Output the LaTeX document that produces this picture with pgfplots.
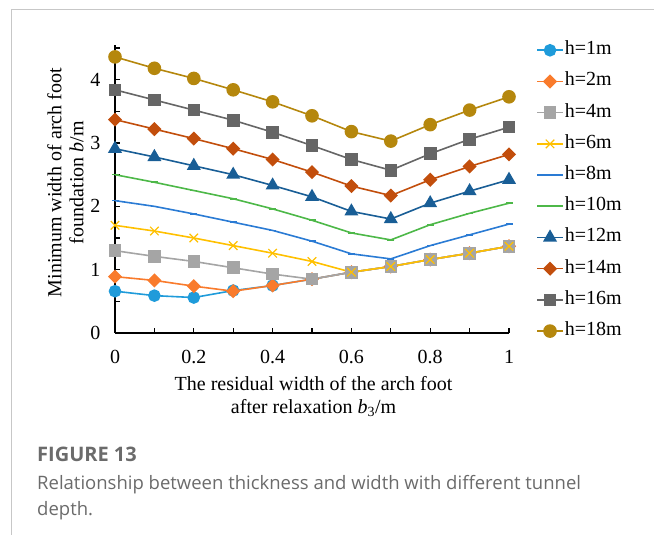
\documentclass[border=0pt]{standalone}
\usepackage{pgfplots}
\pgfplotsset{compat=1.18}
\usepackage{fontspec}
\setmainfont{Liberation Serif}
\newfontfamily\capfont{Open Sans}

\definecolor{cA}{HTML}{1F9BDA}
\definecolor{cB}{HTML}{F97B2C}
\definecolor{cC}{HTML}{A5A5A5}
\definecolor{cD}{HTML}{FFC000}
\definecolor{cE}{HTML}{2A7BD4}
\definecolor{cF}{HTML}{4DB848}
\definecolor{cG}{HTML}{195E96}
\definecolor{cH}{HTML}{C24E0C}
\definecolor{cI}{HTML}{666666}
\definecolor{cJ}{HTML}{B5870D}
\definecolor{capgray}{HTML}{6B6B6B}

\newcommand\tfs{\fontsize{20bp}{23bp}\selectfont}
\newcommand\lfs{\fontsize{20bp}{22.5bp}\selectfont}

\begin{document}
\begin{tikzpicture}
\useasboundingbox (0bp,0bp) rectangle (654bp,535bp);
\draw[black!22, line width=1bp] (11bp,0bp) -- (11bp,525.5bp) -- (654bp,525.5bp);

\begin{axis}[
  at={(115bp,202bp)}, anchor=south west,
  scale only axis, width=394bp, height=287.5bp,
  xmin=0, xmax=1, ymin=0, ymax=4.54,
  clip=false,
  axis lines=left,
  axis line style={-, line width=1.3bp, black},
  xtick={0,0.2,0.4,0.6,0.8,1},
  minor xtick={0.1,0.3,0.5,0.7,0.9},
  ytick={0,1,2,3,4},
  minor ytick={0.5,1.5,2.5,3.5,4.5},
  tick align=inside,
  major tick length=5bp, minor tick length=5bp,
  every tick/.style={black, line width=1.3bp},
  /pgf/number format/assume math mode=true,
  ticklabel style={font=\tfs},
  xticklabel style={yshift=-14bp},
  yticklabel style={xshift=-11bp},
  xlabel={The residual width of the arch foot\\after relaxation \textit{b}\textsubscript{3}/m},
  xlabel style={font=\lfs, align=center, at={(axis description cs:0.504,-0.221)}, anchor=center},
  ylabel={Minimum width of arch foot\\foundation \textit{b}/m},
  ylabel style={font=\fontsize{20bp}{22bp}\selectfont, align=center, at={(axis description cs:-0.126,0.523)}, anchor=center, rotate=0},
  every axis plot/.append style={line width=1.6bp},
  legend image code/.code={%
    \draw[mark repeat=2, mark phase=2] plot coordinates {(0bp,0bp) (13bp,0bp) (26bp,0bp)};},
  legend style={draw=none, fill=none, at={(axis description cs:1.061,1.024)}, anchor=north west,
    font=\fontsize{20bp}{22bp}\selectfont, row sep=12.2bp,
    nodes={inner sep=1bp, text height=13bp, text depth=4bp}},
  legend cell align=left,
]
\addplot[color=cA, mark=*, mark size=5.5bp, mark options={solid, fill=cA, draw=cA}] coordinates {
  (0,0.66)(0.1,0.59)(0.2,0.56)(0.3,0.67)(0.4,0.75)(0.5,0.85)(0.6,0.96)(0.7,1.05)(0.8,1.16)(0.9,1.26)(1,1.37)};
\addlegendentry{h=1m}
\addplot[color=cB, mark=square*, mark size=4.2bp, mark options={solid, rotate=45, fill=cB, draw=cB}] coordinates {
  (0,0.89)(0.1,0.83)(0.2,0.74)(0.3,0.66)(0.4,0.75)(0.5,0.85)(0.6,0.96)(0.7,1.05)(0.8,1.16)(0.9,1.26)(1,1.37)};
\addlegendentry{h=2m}
\addplot[color=cC, mark=square*, mark size=5.5bp, mark options={solid, fill=cC, draw=cC}] coordinates {
  (0,1.30)(0.1,1.21)(0.2,1.13)(0.3,1.03)(0.4,0.93)(0.5,0.85)(0.6,0.96)(0.7,1.05)(0.8,1.16)(0.9,1.26)(1,1.37)};
\addlegendentry{h=4m}
\addplot[color=cD, mark=x, mark size=6bp, mark options={solid, line width=1.2bp}] coordinates {
  (0,1.70)(0.1,1.61)(0.2,1.50)(0.3,1.38)(0.4,1.26)(0.5,1.13)(0.6,0.96)(0.7,1.05)(0.8,1.16)(0.9,1.26)(1,1.37)};
\addlegendentry{h=6m}
\addplot[color=cE, mark=-, mark size=3.5bp, mark options={solid, draw=cE, line width=1.6bp}] coordinates {
  (0,2.09)(0.1,2.00)(0.2,1.88)(0.3,1.75)(0.4,1.62)(0.5,1.45)(0.6,1.25)(0.7,1.17)(0.8,1.38)(0.9,1.55)(1,1.72)};
\addlegendentry{h=8m}
\addplot[color=cF, mark=-, mark size=3.5bp, mark options={solid, draw=cF, line width=1.6bp}] coordinates {
  (0,2.50)(0.1,2.38)(0.2,2.25)(0.3,2.12)(0.4,1.96)(0.5,1.78)(0.6,1.58)(0.7,1.47)(0.8,1.71)(0.9,1.89)(1,2.05)};
\addlegendentry{h=10m}
\addplot[color=cG, mark=triangle*, mark size=6.5bp, mark options={solid, fill=cG, draw=cG}] coordinates {
  (0,2.91)(0.1,2.78)(0.2,2.64)(0.3,2.50)(0.4,2.33)(0.5,2.15)(0.6,1.92)(0.7,1.80)(0.8,2.05)(0.9,2.24)(1,2.42)};
\addlegendentry{h=12m}
\addplot[color=cH, mark=square*, mark size=4.2bp, mark options={solid, rotate=45, fill=cH, draw=cH}] coordinates {
  (0,3.37)(0.1,3.22)(0.2,3.07)(0.3,2.91)(0.4,2.74)(0.5,2.54)(0.6,2.32)(0.7,2.17)(0.8,2.42)(0.9,2.63)(1,2.82)};
\addlegendentry{h=14m}
\addplot[color=cI, mark=square*, mark size=5.5bp, mark options={solid, fill=cI, draw=cI}] coordinates {
  (0,3.84)(0.1,3.68)(0.2,3.52)(0.3,3.36)(0.4,3.17)(0.5,2.96)(0.6,2.74)(0.7,2.57)(0.8,2.83)(0.9,3.06)(1,3.25)};
\addlegendentry{h=16m}
\addplot[color=cJ, mark=*, mark size=6bp, mark options={solid, fill=cJ, draw=cJ}] coordinates {
  (0,4.36)(0.1,4.18)(0.2,4.02)(0.3,3.84)(0.4,3.65)(0.5,3.43)(0.6,3.18)(0.7,3.03)(0.8,3.29)(0.9,3.52)(1,3.73)};
\addlegendentry{h=18m}
\end{axis}

\node[anchor=base west, inner sep=0pt, text=capgray, font=\capfont\bfseries\fontsize{20bp}{22bp}\selectfont] at (37bp,73bp) {FIGURE 13};
\node[anchor=base west, inner sep=0pt, text=capgray, font=\capfont\fontsize{18.5bp}{22bp}\selectfont] at (37bp,45bp) {Relationship between thickness and width with different tunnel};
\node[anchor=base west, inner sep=0pt, text=capgray, font=\capfont\fontsize{18.5bp}{22bp}\selectfont] at (37bp,20bp) {depth.};
\end{tikzpicture}
\end{document}
